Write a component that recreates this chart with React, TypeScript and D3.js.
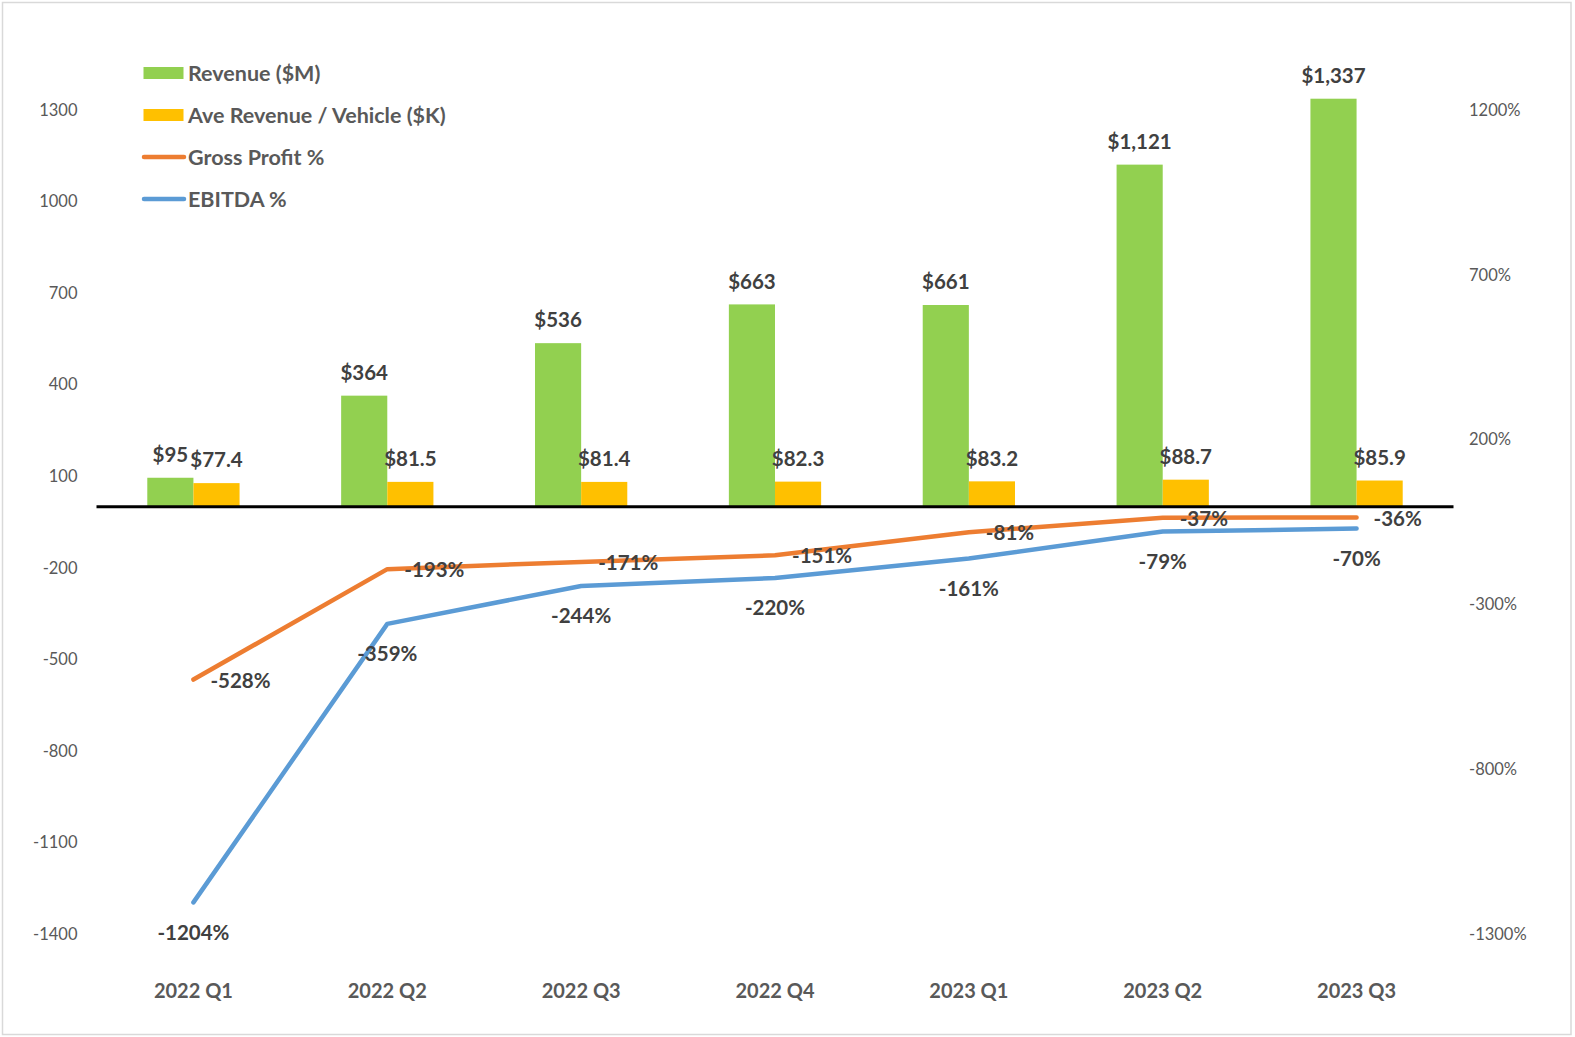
import React from "react";
import * as d3 from "d3";

const categories = ["2022 Q1", "2022 Q2", "2022 Q3", "2022 Q4", "2023 Q1", "2023 Q2", "2023 Q3"];
const revenue = [95, 364, 536, 663, 661, 1121, 1337];
const aveRevenue = [77.4, 81.5, 81.4, 82.3, 83.2, 88.7, 85.9];
const grossProfit = [-528, -193, -171, -151, -81, -37, -36];
const ebitda = [-1204, -359, -244, -220, -161, -79, -70];
const leftTicks = [-1400, -1100, -800, -500, -200, 100, 400, 700, 1000, 1300];
const rightTicks = [-1300, -800, -300, 200, 700, 1200];

const W = 1575;
const H = 1037;
const FONT = "Lato, 'Open Sans', sans-serif";

const GREEN = "#92D050";
const YELLOW = "#FFC000";
const ORANGE = "#ED7D31";
const BLUE = "#5B9BD5";
const LABEL = "#404040";
const AXIS = "#595959";

const App: React.FC = () => {
  const plotLeft = 96.5;
  const plotRight = 1453.5;
  const plotTop = 110;
  const plotBottom = 934;

  const x = d3.scaleBand<string>().domain(categories).range([plotLeft, plotRight]);
  const yL = d3.scaleLinear().domain([-1400, 1300]).range([plotBottom, plotTop]);
  const yR = d3.scaleLinear().domain([-1300, 1200]).range([plotBottom, plotTop]);

  const barW = x.bandwidth() * 0.238;
  const cx = (c: string) => (x(c) || 0) + x.bandwidth() / 2;
  const zeroY = yL(0);

  const lineGen = d3
    .line<number>()
    .x((_, i) => cx(categories[i]))
    .y((d) => yR(d));

  const legend = [
    { label: "Revenue ($M)", color: GREEN, kind: "rect" },
    { label: "Ave Revenue / Vehicle ($K)", color: YELLOW, kind: "rect" },
    { label: "Gross Profit %", color: ORANGE, kind: "line" },
    { label: "EBITDA %", color: BLUE, kind: "line" },
  ];

  return (
    <svg
      width={W}
      height={H}
      style={{ position: "absolute", left: 0, top: 0, background: "#fff" }}
      fontFamily={FONT}
    >
      <rect x={2.5} y={2.5} width={1568.5} height={1032} fill="#fff" stroke="#d9d9d9" strokeWidth={1.5} />

      {/* left axis labels */}
      {leftTicks.map((t) => (
        <text key={"l" + t} x={77.5} y={yL(t)} dy="0.35em" textAnchor="end" fontSize={16.5} fill={AXIS}>
          {t}
        </text>
      ))}

      {/* right axis labels */}
      {rightTicks.map((t) => (
        <text key={"r" + t} x={1469} y={yR(t)} dy="0.35em" textAnchor="start" fontSize={16.5} fill={AXIS}>
          {t + "%"}
        </text>
      ))}

      {/* bars */}
      {categories.map((c, i) => (
        <g key={c}>
          <rect x={cx(c) - barW} y={yL(revenue[i])} width={barW} height={zeroY - yL(revenue[i])} fill={GREEN} />
          <rect x={cx(c)} y={yL(aveRevenue[i])} width={barW} height={zeroY - yL(aveRevenue[i])} fill={YELLOW} />
        </g>
      ))}

      <line x1={plotLeft} x2={plotRight} y1={zeroY} y2={zeroY} stroke="#000" strokeWidth={3} />

      {/* lines */}
      <path d={lineGen(grossProfit) || ""} fill="none" stroke={ORANGE} strokeWidth={4.5} strokeLinecap="round" strokeLinejoin="round" />
      <path d={lineGen(ebitda) || ""} fill="none" stroke={BLUE} strokeWidth={4.5} strokeLinecap="round" strokeLinejoin="round" />

      {/* bar labels */}
      {categories.map((c, i) => (
        <g key={"bl" + c} fontSize={20.5} fontWeight="bold" fill={LABEL}>
          <text x={cx(c) - barW / 2} y={yL(revenue[i]) - 23} dy="0.35em" textAnchor="middle">
            {"$" + d3.format(",")(revenue[i])}
          </text>
          <text x={cx(c) + barW / 2} y={yL(aveRevenue[i]) - 23} dy="0.35em" textAnchor="middle">
            {"$" + aveRevenue[i].toFixed(1)}
          </text>
        </g>
      ))}

      {/* line labels */}
      {categories.map((c, i) => (
        <g key={"ll" + c} fontSize={20.5} fontWeight="bold" fill={LABEL}>
          <text x={cx(c) + 17} y={yR(grossProfit[i]) + 1} dy="0.35em" textAnchor="start">
            {grossProfit[i] + "%"}
          </text>
          <text x={cx(c)} y={yR(ebitda[i]) + 30} dy="0.35em" textAnchor="middle">
            {ebitda[i] + "%"}
          </text>
        </g>
      ))}

      {/* category labels */}
      {categories.map((c) => (
        <text key={"c" + c} x={cx(c)} y={991} dy="0.35em" textAnchor="middle" fontSize={20} fontWeight="bold" fill={AXIS}>
          {c}
        </text>
      ))}

      {/* legend */}
      {legend.map((l, i) => {
        const ly = 73 + i * 42;
        return (
          <g key={l.label}>
            {l.kind === "rect" ? (
              <rect x={143.5} y={ly - 6} width={40} height={12} fill={l.color} />
            ) : (
              <line x1={144} x2={184} y1={ly} y2={ly} stroke={l.color} strokeWidth={4.5} strokeLinecap="round" />
            )}
            <text x={188} y={ly} dy="0.35em" fontSize={21.5} fontWeight="bold" fill={AXIS}>
              {l.label}
            </text>
          </g>
        );
      })}
    </svg>
  );
};

export default App;
